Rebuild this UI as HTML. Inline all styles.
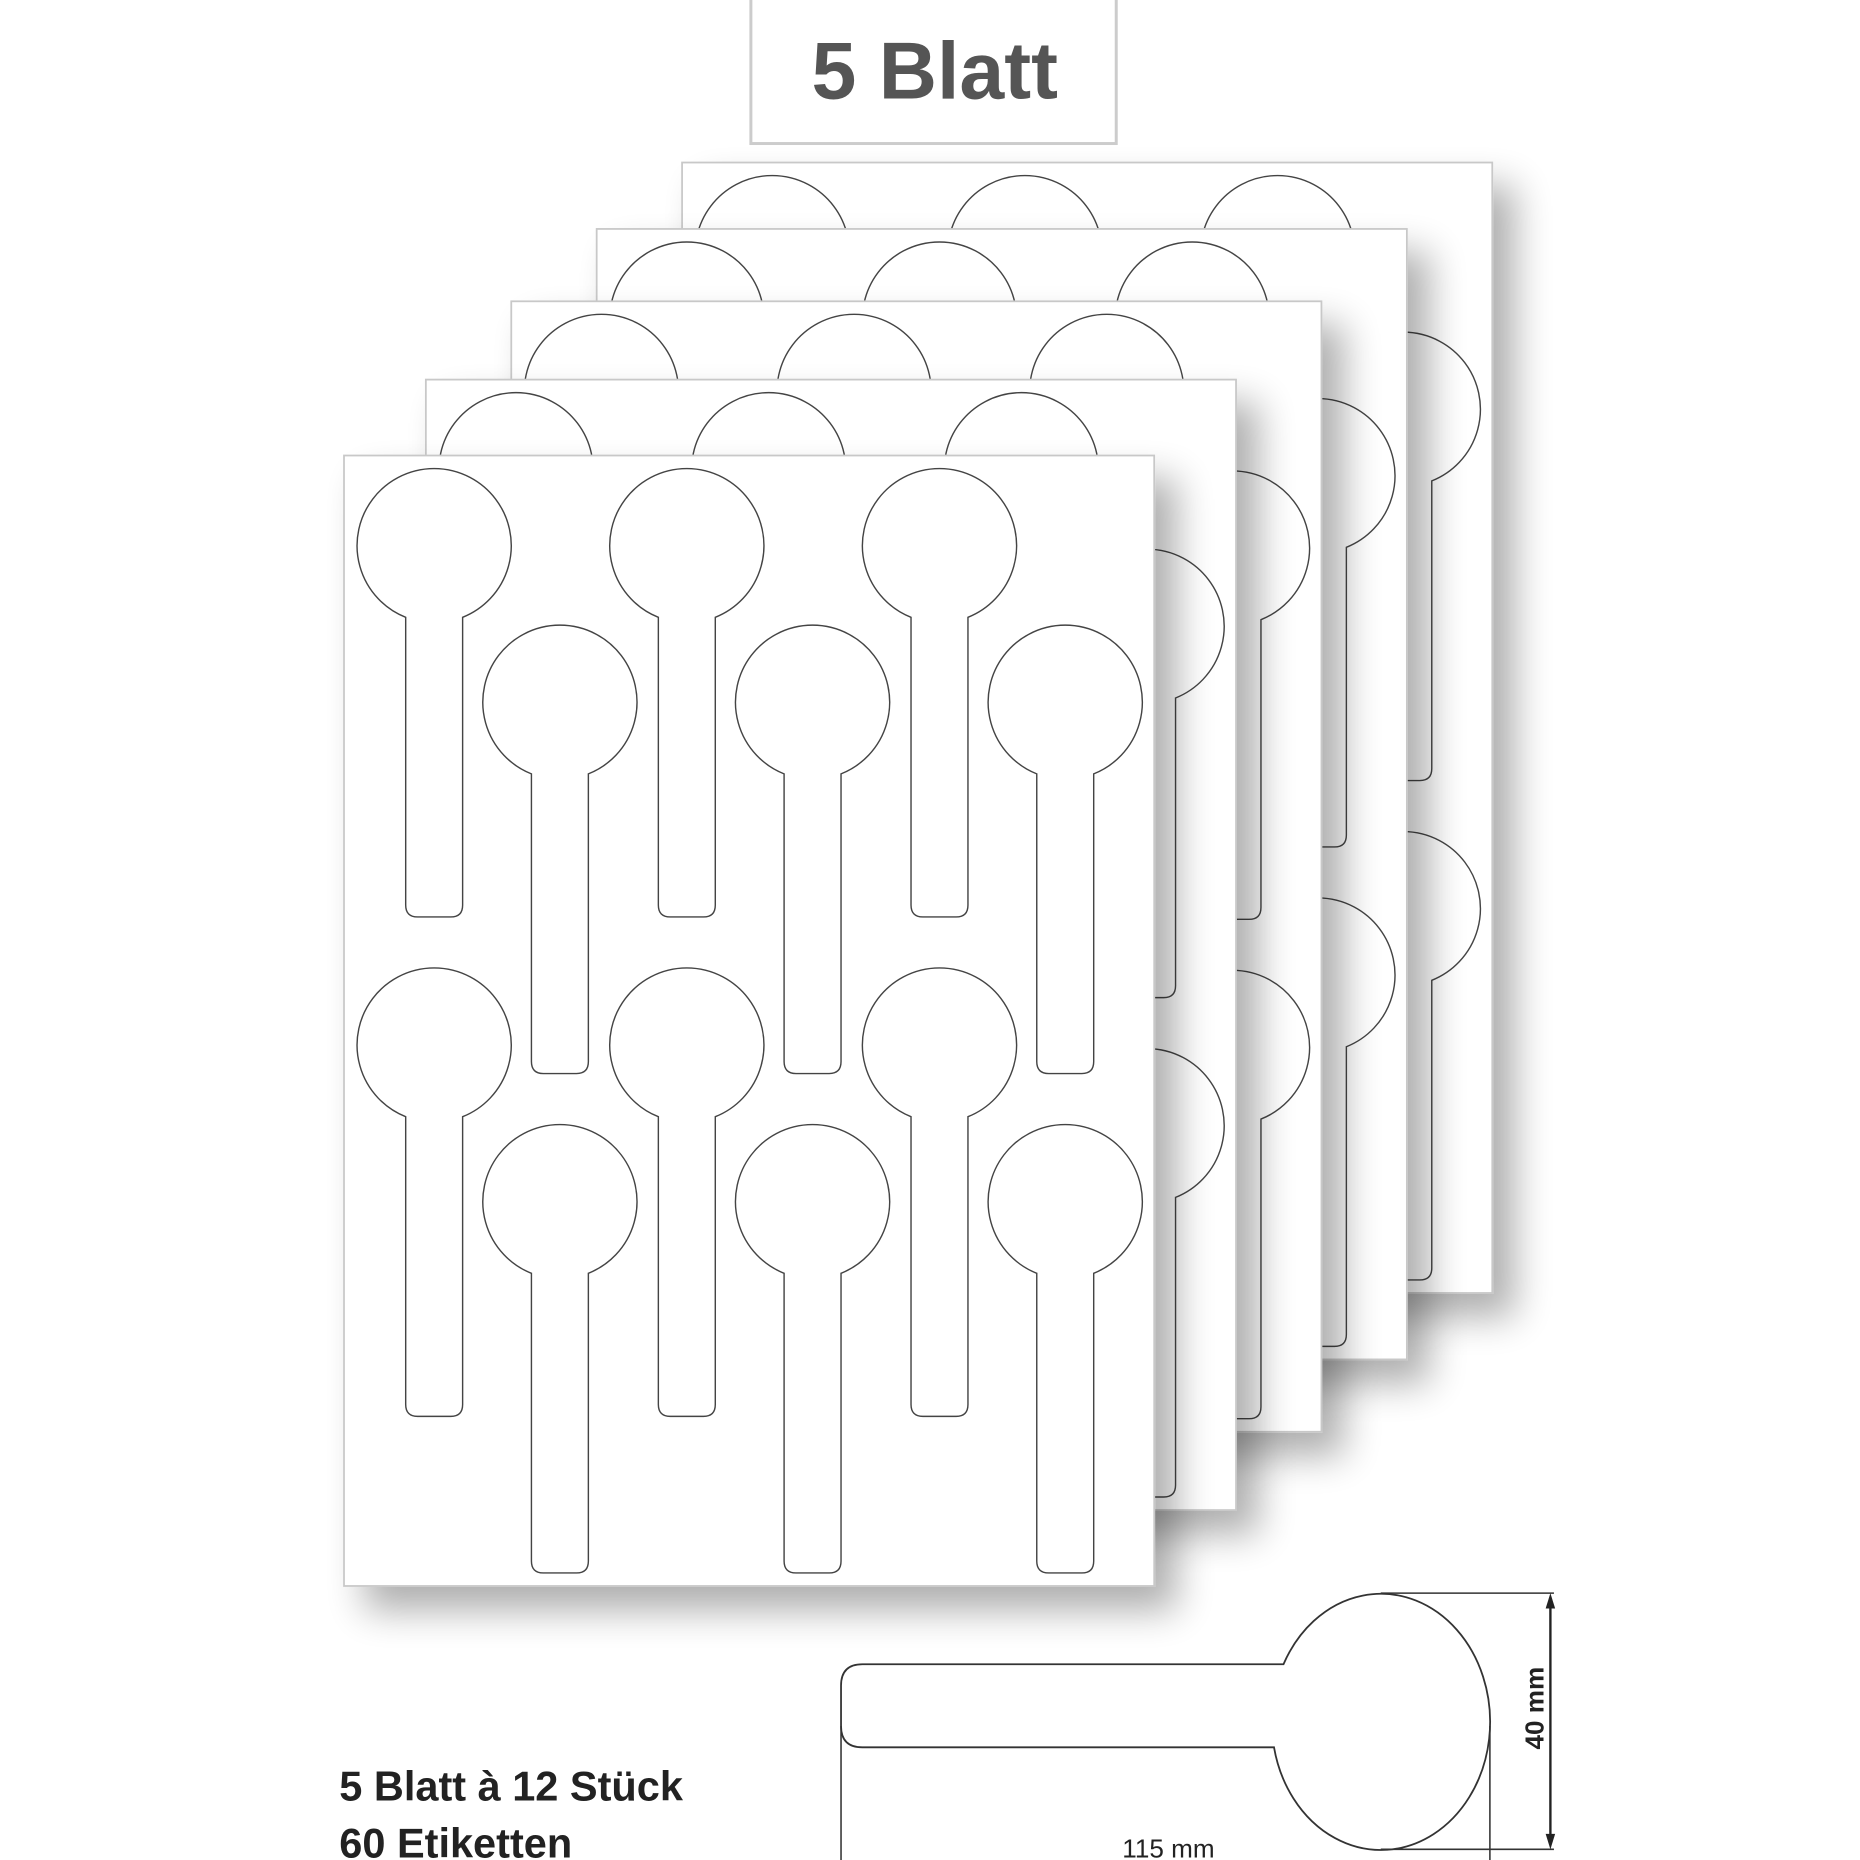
<!DOCTYPE html>
<html><head><meta charset="utf-8"><style>
html,body{margin:0;padding:0;background:#fff;}
svg{display:block;}
text{font-family:"Liberation Sans",sans-serif;}
</style></head><body>
<svg width="1860" height="1860" viewBox="0 0 1568 1568" xmlns="http://www.w3.org/2000/svg">
<defs>
<filter id="sh" x="-15%" y="-15%" width="140%" height="140%">
<feGaussianBlur in="SourceAlpha" stdDeviation="16"/>
<feOffset dx="18" dy="20" result="b"/>
<feComponentTransfer><feFuncA type="linear" slope="0.32"/></feComponentTransfer>
<feMerge><feMergeNode/><feMergeNode in="SourceGraphic"/></feMerge>
</filter>
<path id="lbl" d="M -24 60.4 A 65 65 0 1 1 24 60.4 L 24 303 Q 24 313 14 313 L -14 313 Q -24 313 -24 303 Z" fill="#fff" stroke="#444" stroke-width="1.2"/>
<g id="sheet">
<rect x="0" y="0" width="683" height="953" fill="#fff" stroke="#c8c8c8" stroke-width="1.5" filter="url(#sh)"/>
<use href="#lbl" x="76" y="76"/><use href="#lbl" x="289" y="76"/><use href="#lbl" x="502" y="76"/>
<use href="#lbl" x="182" y="208"/><use href="#lbl" x="395" y="208"/><use href="#lbl" x="608" y="208"/>
<use href="#lbl" x="76" y="497"/><use href="#lbl" x="289" y="497"/><use href="#lbl" x="502" y="497"/>
<use href="#lbl" x="182" y="629"/><use href="#lbl" x="395" y="629"/><use href="#lbl" x="608" y="629"/>
</g>
</defs>
<rect x="633" y="-2" width="308" height="123" fill="#fff" stroke="#ccc" stroke-width="2.5"/>
<text x="788" y="83" font-size="68" font-weight="bold" fill="#555" text-anchor="middle">5 Blatt</text>
<use href="#sheet" x="575" y="137"/>
<use href="#sheet" x="503" y="193"/>
<use href="#sheet" x="431" y="254"/>
<use href="#sheet" x="359" y="320"/>
<use href="#sheet" x="290" y="384"/>
<!-- bottom label -->
<path d="M 1082 1403 A 92 108 0 1 1 1074 1473 L 727 1473 Q 709 1473 709 1455 L 709 1421 Q 709 1403 727 1403 Z" fill="#fff" stroke="#333" stroke-width="1.5"/>
<line x1="709" y1="1455" x2="709" y2="1568" stroke="#333" stroke-width="1.3"/>
<line x1="1256" y1="1455" x2="1256" y2="1568" stroke="#333" stroke-width="1.3"/>
<line x1="1164" y1="1343" x2="1310" y2="1343" stroke="#333" stroke-width="1.3"/>
<line x1="1164" y1="1559" x2="1310" y2="1559" stroke="#333" stroke-width="1.3"/>
<line x1="1307" y1="1350" x2="1307" y2="1552" stroke="#222" stroke-width="2"/>
<polygon points="1307,1343 1303,1356 1311,1356" fill="#222"/>
<polygon points="1307,1559 1303,1546 1311,1546" fill="#222"/>
<text transform="translate(1301,1440) rotate(-90)" font-size="22" font-weight="bold" fill="#222" text-anchor="middle">40 mm</text>
<text x="985" y="1566" font-size="22" fill="#222" text-anchor="middle">115 mm</text>
<text x="286" y="1518" font-size="35" font-weight="bold" fill="#222">5 Blatt à 12 Stück</text>
<text x="286" y="1566" font-size="35" font-weight="bold" fill="#222">60 Etiketten</text>
</svg>
</body></html>
